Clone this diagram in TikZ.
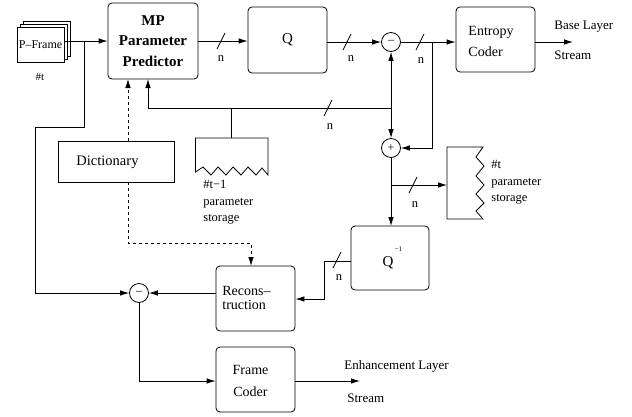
\documentclass[tikz,border=0pt]{standalone}
\usepackage{fontspec}
\setmainfont{Liberation Serif}
\usetikzlibrary{arrows.meta}
\tikzset{
  every path/.style={line width=0.8pt},
  >={Latex[length=9pt,width=5.5pt]},
  rbox/.style={draw, rounded corners=4pt, inner sep=0pt, fill=white},
  sbox/.style={draw, inner sep=0pt, fill=white},
  sumnode/.style={draw, circle, minimum size=19pt, inner sep=0pt, font=\fontsize{12}{12}\selectfont},
  lbl/.style={inner sep=0pt, font=\fontsize{12.5}{12.5}\selectfont},
  txt/.style={inner sep=0pt, align=left, font=\fontsize{12.5}{16.5}\selectfont},
}
\newcommand\busmark[1]{\draw (#1) ++(-4,8) -- ++(8,-16);}
\begin{document}
\begin{tikzpicture}[x=1pt,y=-1pt]
\useasboundingbox (0,0) rectangle (632,416);
% P-Frame stack
\draw[fill=white] (23,21) rectangle (70,56);
\draw[fill=white] (20,24) rectangle (67,59);
\node[sbox, minimum width=47pt, minimum height=35pt, font=\fontsize{12}{12}\selectfont] (pf) at (40.5,44.5) {P–Frame};
\node[lbl, font=\fontsize{11}{11}\selectfont] (pft) at (40,77) {\#t};
% boxes
\node[rbox, minimum width=90pt, minimum height=76pt, align=center, font=\fontsize{15}{20.5}\selectfont\bfseries] (mp) at (153,41) {MP\\Parameter\\Predictor};
\node[rbox, minimum width=79pt, minimum height=66pt, font=\fontsize{15}{15}\selectfont] (q) at (287.5,40) {Q};
\node[sumnode] (m1) at (391,42) {–};
\node[rbox, minimum width=79pt, minimum height=65pt] (ent) at (495.5,39.5) {};
\node[inner sep=0pt, align=left, font=\fontsize{14}{21}\selectfont] (entt) at (491,41) {Entropy\\Coder};
\node[sbox, minimum width=116pt, minimum height=41pt] (dict) at (116,161.5) {};
\node[inner sep=0pt, font=\fontsize{14.5}{14.5}\selectfont] (dictt) at (107.5,162) {Dictionary};
\node[sumnode] (plus) at (391,148) {+};
\node[rbox, minimum width=78pt, minimum height=64pt] (qi) at (390,258) {};
\node[lbl, font=\fontsize{15}{15}\selectfont] (qit) at (388,263) {Q};
\node[lbl, font=\fontsize{7}{7}\selectfont] (qie) at (398.5,249) {−1};
\node[rbox, minimum width=79pt, minimum height=65pt] (rec) at (255.5,298.5) {};
\node[inner sep=0pt, align=left, anchor=west, font=\fontsize{14}{14.5}\selectfont] (rect) at (222,298) {Recons–\\truction};
\node[sumnode] (m2) at (139,293) {–};
\node[rbox, minimum width=79pt, minimum height=65pt] (fc) at (255.5,379.5) {};
\node[inner sep=0pt, align=center, font=\fontsize{14}{22}\selectfont] (fct) at (250.5,381) {Frame\\Coder};
% storages
\draw (195.5,138) -- (195.5,172) -- (203,167) -- (211,175) -- (218,167) -- (226,175) -- (233,167) -- (241,175) -- (248,167) -- (256,175) -- (262,168) -- (268,175) -- (268,138) -- cycle;
\coordinate (st1) at (231,138);
\node[txt, anchor=north west] (st1t) at (203,180) {\#t−1\\parameter\\storage};
\draw (483,147) -- (447,147) -- (447,219) -- (483,219) -- (476,211) -- (484,203) -- (476,194) -- (484,185) -- (476,176) -- (484,166) -- (476,157) -- cycle;
\coordinate (st2) at (447,185);
\node[txt, anchor=north west] (st2t) at (491,160) {\#t\\parameter\\storage};
% connectors
\coordinate (j1) at (84,41);
\draw[->] (pf.east |- mp.west) -- (mp.west);
\draw[->] (j1) -- (84,127) -- (35,127) -- (35,293) -- (m2.west);
\draw[->] (mp.east) -- (q.west |- mp.east);
\busmark{221,41}
\node[lbl] (n1) at (221,59) {n};
\draw[->] (q.east |- m1.west) -- (m1.west);
\busmark{347,42}
\node[lbl] (n2) at (351,59) {n};
\draw[->] (m1.east) -- (ent.west |- m1.east);
\busmark{420,42}
\node[lbl] (n3) at (421,61) {n};
\coordinate (j2) at (432,42);
\draw[->] (j2) -- (432,148) -- (plus.east);
\draw[->] (ent.east |- m1.east) -- (573,42);
\node[lbl, anchor=west, font=\fontsize{13}{13}\selectfont] (bl) at (554,27) {Base Layer};
\node[lbl, anchor=west, font=\fontsize{13}{13}\selectfont] (bs) at (554,55) {Stream};
% feedback
\coordinate (j3) at (391,108);
\draw[<->] (m1.south) -- (plus.north);
\draw[->] (j3) -- (148,108) -- (148,79);
\busmark{328,108}
\node[lbl] (n4) at (330,127) {n};
\draw (231,108) -- (st1);
% dashed
\draw[dashed,->] (128,141) -- (128,79);
\draw[dashed,->] (128,182) -- (128,243) -- (251,243) -- (251,266);
% plus to Q^-1
\draw[->] (plus.south) -- (391,226);
\draw[->] (391,185) -- (st2);
\busmark{413,185}
\node[lbl] (n5) at (415,205) {n};
% Q^-1 to recon
\draw[->] (qi.west |- 0,261) -- (324,261) -- (324,299) -- (rec.east |- 0,299);
\busmark{337,260}
\node[lbl] (n6) at (339,278) {n};
\draw[->] (rec.west |- m2.east) -- (m2.east);
\draw[->] (m2.south) -- (139,381) -- (fc.west |- 0,381);
\draw[->] (fc.east |- 0,381) -- (360,381);
\node[lbl, anchor=west, font=\fontsize{13}{13}\selectfont] (el) at (344,366) {Enhancement Layer};
\node[lbl, anchor=west, font=\fontsize{13}{13}\selectfont] (es) at (347,398) {Stream};
\end{tikzpicture}
\end{document}
